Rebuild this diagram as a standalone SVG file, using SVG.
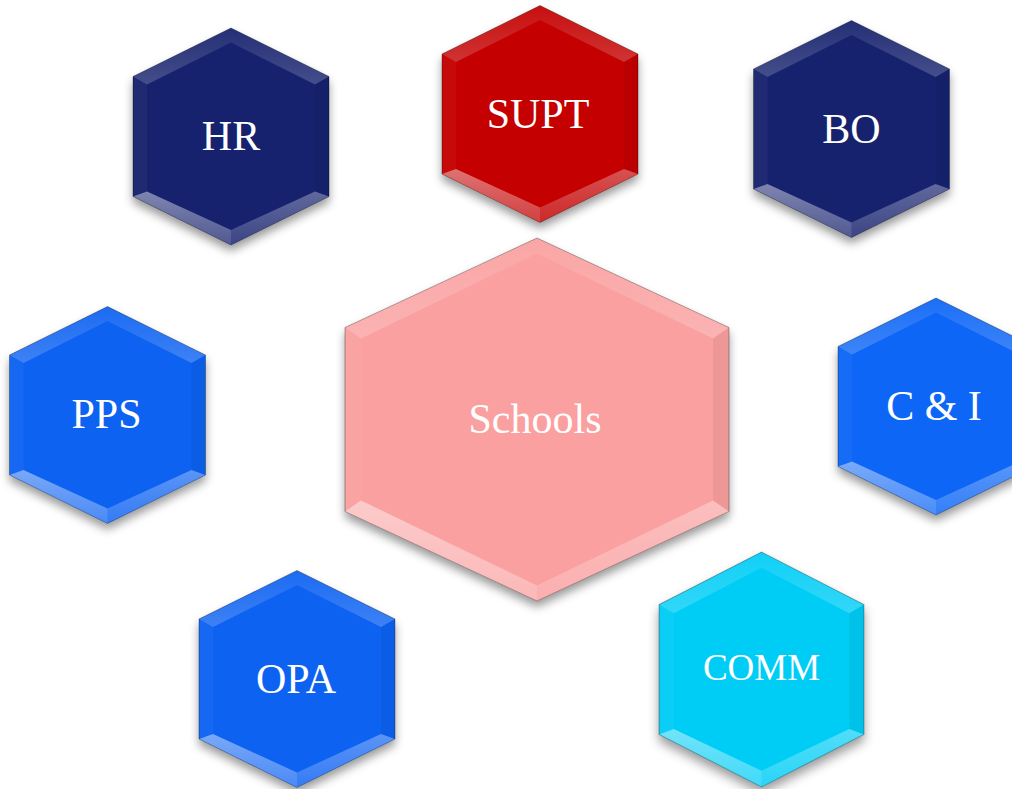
<svg xmlns="http://www.w3.org/2000/svg" xmlns:xlink="http://www.w3.org/1999/xlink" width="1012" height="789" viewBox="0 0 1012 789">
<style>
.t{font-family:"Liberation Serif","Times New Roman",serif;font-size:42px;fill:#ffffff;text-anchor:middle}
.edge{stroke:#000;stroke-opacity:0.3;stroke-width:1}
.fTL{fill:url(#gT);}
.fTR{fill:url(#gT);}
.fL{fill:#ffffff;fill-opacity:0.04}
.fR{fill:#000000;fill-opacity:0.05}
.fBL{fill:url(#gB);}
.fBR{fill:url(#gB2);}
</style>
<defs>
<filter id="sh" x="-20%" y="-20%" width="140%" height="150%">
<feDropShadow dx="0" dy="6" stdDeviation="5" flood-color="#000" flood-opacity="0.4"/>
</filter>
<linearGradient id="gT" x1="0" y1="0" x2="0" y2="1">
<stop offset="0" stop-color="#fff" stop-opacity="0.06"/>
<stop offset="1" stop-color="#fff" stop-opacity="0.2"/>
</linearGradient>
<linearGradient id="gB" x1="0" y1="0" x2="0" y2="1">
<stop offset="0" stop-color="#fff" stop-opacity="0.45"/>
<stop offset="1" stop-color="#fff" stop-opacity="0.25"/>
</linearGradient>
<linearGradient id="gB2" x1="0" y1="0" x2="0" y2="1">
<stop offset="0" stop-color="#fff" stop-opacity="0.32"/>
<stop offset="1" stop-color="#fff" stop-opacity="0.16"/>
</linearGradient>
<polygon id="ho" points="0,-108.5 98,-60 98,60 0,108.5 -98,60 -98,-60"/>
<g id="bv">
<polygon class="fTL" points="0,-108.5 -98,-60 -84,-52 0,-94"/>
<polygon class="fTR" points="0,-108.5 98,-60 84,-52 0,-94"/>
<polygon class="fL" points="-98,-60 -98,60 -84,55 -84,-52"/>
<polygon class="fR" points="98,-60 98,60 84,55 84,-52"/>
<polygon class="fBL" points="-98,60 0,108.5 0,93.5 -84,55"/>
<polygon class="fBR" points="98,60 0,108.5 0,93.5 84,55"/>
<polygon points="0,-108.5 98,-60 98,60 0,108.5 -98,60 -98,-60" fill="none" class="edge"/>
</g>
<polygon id="hs" points="0,-181.5 192,-92 192,92 0,181.5 -192,92 -192,-92"/>
<g id="bs">
<polygon class="fTL" points="0,-181.5 -192,-92 -176,-81 0,-166"/>
<polygon class="fTR" points="0,-181.5 192,-92 176,-81 0,-166"/>
<polygon class="fL" points="-192,-92 -192,92 -176,81 -176,-81"/>
<polygon class="fR" points="192,-92 192,92 176,81 176,-81"/>
<polygon class="fBL" points="-192,92 0,181.5 0,166 -176,81"/>
<polygon class="fBR" points="192,92 0,181.5 0,166 176,81"/>
<polygon points="0,-181.5 192,-92 192,92 0,181.5 -192,92 -192,-92" fill="none" class="edge"/>
</g>
</defs>
<rect width="1012" height="789" fill="#ffffff"/>
<g id="connectors"/>
<g id="node-hr" transform="translate(231,136.5)">
<use xlink:href="#ho" fill="#14246e" filter="url(#sh)"/>
<use xlink:href="#bv"/>
<text class="t" x="0" y="13.5">HR</text>
</g>
<g id="node-supt" transform="translate(540,114)">
<use xlink:href="#ho" fill="#c40000" filter="url(#sh)"/>
<use xlink:href="#bv"/>
<text class="t" x="-2" y="14">SUPT</text>
</g>
<g id="node-bo" transform="translate(851.5,129)">
<use xlink:href="#ho" fill="#14246e" filter="url(#sh)"/>
<use xlink:href="#bv"/>
<text class="t" x="0" y="14">BO</text>
</g>
<g id="node-pps" transform="translate(107.5,415)">
<use xlink:href="#ho" fill="#0a62f2" filter="url(#sh)"/>
<use xlink:href="#bv"/>
<text class="t" x="-1" y="13">PPS</text>
</g>
<g id="node-schools" transform="translate(537,419.5)">
<use xlink:href="#hs" fill="#faa0a0" filter="url(#sh)"/>
<use xlink:href="#bs"/>
<text class="t" x="-2" y="13.5">Schools</text>
</g>
<g id="node-ci" transform="translate(936,406.5)">
<use xlink:href="#ho" fill="#0866f6" filter="url(#sh)"/>
<use xlink:href="#bv"/>
<text class="t" x="-2" y="13.5">C &amp; I</text>
</g>
<g id="node-opa" transform="translate(297,679)">
<use xlink:href="#ho" fill="#0a62f2" filter="url(#sh)"/>
<use xlink:href="#bv"/>
<text class="t" x="-1" y="14">OPA</text>
</g>
<g id="node-comm" transform="translate(761.5,669.5)">
<g transform="scale(1.045,1.083)">
<use xlink:href="#ho" fill="#00cdf6" filter="url(#sh)"/>
<use xlink:href="#bv"/>
</g>
<text class="t" x="0" y="10.5" style="font-size:37px">COMM</text>
</g>
</svg>
